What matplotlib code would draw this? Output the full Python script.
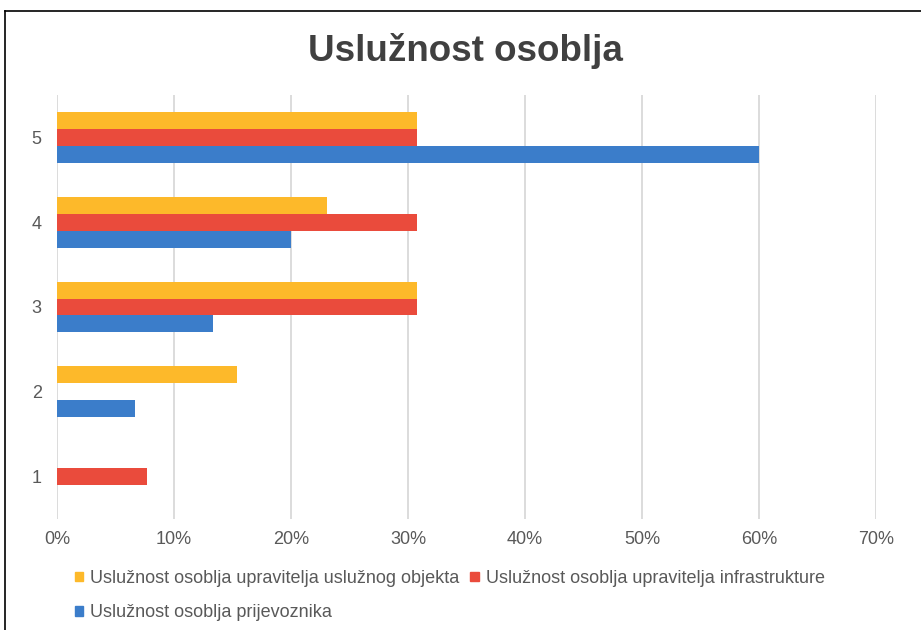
import matplotlib.pyplot as plt
from matplotlib.patches import Patch
from matplotlib.lines import Line2D
import numpy as np

plt.rcParams['font.family'] = ['Liberation Sans', 'DejaVu Sans']

# podaci
ocjene = ['1', '2', '3', '4', '5']
objekt = [0.0, 15.4, 30.8, 23.1, 30.8]          # upravitelj uslužnog objekta
infrastruktura = [7.7, 0.0, 30.8, 30.8, 30.8]   # upravitelj infrastrukture
prijevoznik = [0.0, 6.7, 13.3, 20.0, 60.0]      # prijevoznik
x_ticks = [0, 10, 20, 30, 40, 50, 60, 70]

lbl_objekt = 'Uslužnost osoblja upravitelja uslužnog objekta'
lbl_infra = 'Uslužnost osoblja upravitelja infrastrukture'
lbl_prijev = 'Uslužnost osoblja prijevoznika'

c_yellow = '#FDB92A'
c_red = '#EA4B3C'
c_blue = '#3B7DCA'
c_text = '#595959'

fig = plt.figure(figsize=(9.21, 6.3), dpi=100)
ax = fig.add_axes([57 / 921, 1 - 519 / 630, (876 - 57) / 921, (519 - 95) / 630])

y = np.arange(1, len(ocjene) + 1)
h = 0.2
ax.barh(y + h, objekt, height=h, color=c_yellow, zorder=3)
ax.barh(y, infrastruktura, height=h, color=c_red, zorder=3)
ax.barh(y - h, prijevoznik, height=h, color=c_blue, zorder=3)

ax.set_xlim(0, 70)
ax.set_ylim(0.5, 5.5)
ax.set_xticks(x_ticks)
ax.set_xticklabels([f'{t}%' for t in x_ticks])
ax.set_yticks(y)
ax.set_yticklabels(ocjene)
ax.tick_params(axis='both', length=0, labelsize=13, labelcolor=c_text)
ax.tick_params(axis='x', pad=9)
ax.tick_params(axis='y', pad=11)
ax.grid(axis='x', color='#D9D9D9', linewidth=1.3, zorder=0)
for s in ax.spines.values():
    s.set_visible(False)

fig.text(0.505, 1 - 51 / 630, 'Uslužnost osoblja', ha='center', va='center',
         fontsize=26.5, fontweight='bold', color='#404040')

# redoslijed zbog popunjavanja po stupcima
handles = [Patch(color=c_yellow), Patch(color=c_blue), Patch(color=c_red)]
labels = [lbl_objekt, lbl_prijev, lbl_infra]
fig.legend(handles, labels, ncol=2, loc='upper left',
           bbox_to_anchor=(75 / 921, 1 - 570 / 630), frameon=False,
           fontsize=13, labelcolor=c_text, handlelength=0.45,
           handleheight=0.45, handletextpad=0.4, columnspacing=0.6,
           labelspacing=0.95, borderaxespad=0, borderpad=0)

# okvir
fig.add_artist(Line2D([5 / 921, 1], [1 - 11 / 630] * 2, color='black', lw=1.2))
fig.add_artist(Line2D([5 / 921] * 2, [0, 1 - 11 / 630], color='black', lw=1.2))

fig.savefig('out.png', dpi=100)
